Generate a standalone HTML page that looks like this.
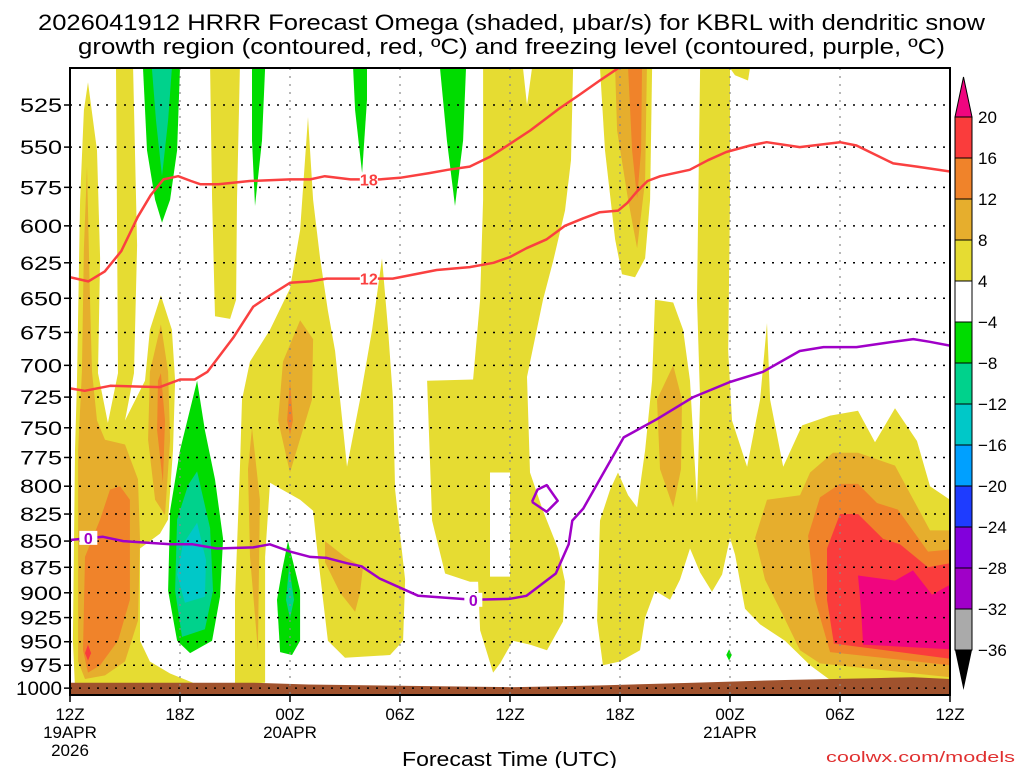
<!DOCTYPE html>
<html><head><meta charset="utf-8"><style>
body{margin:0;background:#fff;width:1024px;height:768px;overflow:hidden}
svg{display:block}
text{font-family:"Liberation Sans",sans-serif}
</style></head><body>
<svg id="chart" width="1024" height="768" viewBox="0 0 1024 768" xmlns="http://www.w3.org/2000/svg">
<defs><clipPath id="plotclip"><rect x="70" y="68" width="880" height="627"/></clipPath></defs>
<text x="38" y="30" font-size="22" textLength="947" lengthAdjust="spacingAndGlyphs">2026041912 HRRR Forecast Omega (shaded, μbar/s) for KBRL with dendritic snow</text>
<text x="78" y="54" font-size="22" textLength="867" lengthAdjust="spacingAndGlyphs">growth region (contoured, red, ºC) and freezing level (contoured, purple, ºC)</text>
<g id="shading" clip-path="url(#plotclip)"></g>
<g id="grid"></g>
<g id="lines" clip-path="url(#plotclip)"></g>
<rect x="70" y="68" width="880" height="627" fill="none" stroke="#000" stroke-width="2"/>
<g id="axes"></g>
<g id="cbar"></g>
<text x="402" y="766" font-size="20" textLength="215" lengthAdjust="spacingAndGlyphs">Forecast Time (UTC)</text>
<text x="826" y="762" font-size="15" textLength="189" lengthAdjust="spacingAndGlyphs" fill="#e03030">coolwx.com/models</text>
</svg>
<script>
const pressureLevels=[525,550,575,600,625,650,675,700,725,750,775,800,825,850,875,900,925,950,975,1000];
const hourTicks=[0,6,12,18,24,30,36,42,48];
const hourLabels=["12Z","18Z","00Z","06Z","12Z","18Z","00Z","06Z","12Z"];
const dateLabels={0:["19APR","2026"],12:["20APR"],36:["21APR"]};
const cbarLevels=[20,16,12,8,4,-4,-8,-12,-16,-20,-24,-28,-32,-36];
const cbarColors=["#f0057f","#fa3c3c","#f0832a","#e6ae2d","#e6dc32","#ffffff","#00dc00","#00d28c","#00c8c8","#00a0ff","#1e3cff","#8200dc","#a000c8","#aaaaaa","#000000"];
const groundHours=[0,10,13,24,29,34,39,44,46,48];
const groundP=[994,994,996,999,997,994,991,989,988,990];
const dgzMinus18=[[0,635],[1,638],[1.9,631],[2.8,617],[3.7,594],[4.4,580],[5.1,570],[5.9,568],[6.6,571],[7.1,573],[8.1,573],[9.8,571],[12,570],[13.1,570],[13.9,568],[15.3,570],[16.9,570],[18,569],[19.6,566],[20.6,564],[21.8,562],[22.9,556],[24,548],[25.1,540],[26.7,527],[27.8,519],[28.9,511],[30.2,502]];
const dgzMinus12=[[0,718],[0.8,720],[2.2,716],[4.9,717],[6,711],[6.8,711],[7.5,705],[8.9,679],[10,656],[10.9,648],[12,639],[13.1,638],[14,636],[17.6,636],[20,630],[21.8,628],[23.1,625],[24,621],[24.9,615],[26,609],[27,600],[28,595],[28.9,591],[29.9,590],[30.4,585],[30.9,578],[31.5,571],[32.2,568],[33.8,564],[34.8,558],[35.8,553],[37.1,549],[38,547],[39.8,550],[42,547],[42.9,549],[44.9,560],[46.2,562],[48,565]];
const freezing0=[[0,849],[1.8,846],[2.9,850],[5.5,853],[6.7,853],[8,857],[10,856],[10.9,853],[12,860],[13.1,865],[14,866],[15.1,871],[15.9,874],[16.9,886],[19,903],[22,907],[24,906],[24.9,903],[26.5,881],[27.2,853],[27.4,831],[28,820],[28.9,794],[30.2,758],[32,743],[34,725],[36,713],[37.8,705],[39.8,689],[41.1,686],[42.9,686],[44.4,683],[46,680],[46.9,682],[48,685]];
const freezingLoop=[[25.2,814],[25.5,803],[26,799],[26.6,813],[26,823],[25.2,814]];
const yellowLeft=[[0.98,512],[1.47,552],[1.64,622],[1.53,706],[2.07,746],[2.62,706],[2.51,504],[3.44,504],[3.66,613],[3.49,706],[3.0,744],[4.09,712],[4.36,673],[4.96,648],[5.56,673],[5.73,712],[5.62,769],[5.35,830],[4.91,843],[3.82,857],[3.82,949],[4.36,971],[5.46,984],[6.71,994],[6.55,1000],[0.27,1000],[0.16,949],[0.27,769],[0.38,712],[0.55,583],[0.76,528]];
const yellowD=[[7.64,504],[9.27,504],[9.11,583],[9.06,651],[8.73,665],[7.91,663],[7.75,583]];
const yellowMid=[[12.98,532],[13.26,583],[13.64,622],[14.07,659],[14.46,689],[14.73,727],[15.11,783],[15.82,727],[16.48,673],[17.02,622],[17.35,673],[17.62,727],[17.73,803],[18.28,887],[18.17,949],[17.46,964],[15.0,967],[14.07,949],[13.53,865],[13.26,822],[12.55,812],[10.91,797],[10.64,865],[10.64,994],[9.0,996],[9.0,907],[9.27,785],[9.38,727],[9.82,697],[10.91,673],[12.0,643],[12.55,603]];
const yellowJ=[[22.53,504],[24.71,504],[24.93,525],[25.2,504],[27.44,504],[27.33,558],[27.0,590],[26.35,624],[25.8,651],[24.93,709],[25.09,788],[25.8,822],[26.62,857],[27.0,889],[26.89,929],[26.02,959],[25.09,953],[24.16,949],[23.46,973],[23.08,983],[22.37,938],[22.26,889],[21.82,889],[20.46,881],[19.75,831],[19.48,712],[21.99,711],[22.37,651],[22.53,583]];
const whiteGap=[[22.91,788],[24,788],[24,884],[22.91,884]];
const yellowN=[[28.91,504],[31.75,504],[31.64,583],[31.37,622],[30.82,635],[30.11,633],[29.73,609],[29.18,552]];
const yellowQ=[[28.91,831],[29.46,803],[29.89,788],[30.44,808],[30.93,819],[31.37,769],[31.75,712],[31.91,651],[32.9,653],[33.44,673],[33.82,712],[34.2,815],[34.37,727],[34.2,651],[34.37,504],[36.0,504],[36.0,583],[35.9,689],[36.11,744],[36.93,783],[37.64,727],[38.02,668],[38.19,727],[38.9,783],[39.93,748],[41.46,740],[42.98,736],[43.91,762],[45.0,734],[46.2,761],[46.91,800],[48,812],[48,994],[41.46,991],[40.37,975],[39.0,949],[37.64,932],[36.82,916],[36.28,863],[36.0,847],[35.57,882],[35.02,899],[34.37,880],[33.82,857],[33.27,887],[32.73,907],[31.91,898],[31.37,925],[31.09,959],[30.0,971],[29.07,975],[28.75,928]];
const yellowTiny=[[36,504],[37.09,504],[36.98,511],[36.27,508]];
const orangeLeft=[[0.93,562],[1.09,651],[1.2,705],[1.47,744],[1.91,760],[3.0,764],[3.71,794],[3.82,849],[3.71,928],[3.0,971],[1.91,986],[0.82,990],[0.44,971],[0.44,769],[0.65,705],[0.76,615]];
const orangeCol=[[4.96,669],[5.35,705],[5.46,760],[5.18,826],[4.64,812],[4.26,760],[4.36,705]];
const orangeF=[[12.55,666],[13.26,680],[13.2,727],[12.0,788],[11.35,744],[11.62,697]];
const orangeK=[[9.93,750],[10.36,812],[10.25,959],[9.82,865],[9.71,785]];
const orangeL=[[13.91,850],[15.0,865],[15.98,875],[15.82,900],[15.55,919],[14.73,900],[13.91,870]];
const orangeN=[[29.73,504],[31.47,504],[31.37,571],[30.93,615],[30.44,583],[29.84,540]];
const orangeP=[[32.9,700],[33.38,727],[33.33,785],[32.9,819],[32.18,785],[32.02,727]];
const orangeBig=[[37.37,847],[38.02,812],[39.82,808],[40.37,788],[41.62,771],[42.98,771],[45,782],[46.91,840],[48,840],[48,988],[40.91,973],[39.82,959],[38.9,923],[37.91,887]];
const dkOrangeLeft=[[2.73,800],[3.27,812],[3.27,907],[2.62,949],[1.64,975],[0.98,983],[0.71,959],[0.82,865],[1.64,830],[2.18,803]];
const dkOrangeCol=[[4.96,706],[5.18,744],[5.07,797],[4.75,752],[4.8,712]];
const dkOrangeF=[[12,712],[12.16,744],[12,756],[11.84,744]];
const dkOrangeN=[[30.44,504],[31.2,504],[31.15,552],[30.93,582],[30.66,552]];
const dkOrangeBig=[[40.26,845],[40.91,810],[42.0,798],[42.98,798],[44.02,815],[45.16,821],[46.8,860],[48,858],[48,975],[41.46,961],[40.64,907]];
const redLeft=[[0.98,953],[1.15,962],[0.98,970],[0.82,962]];
const redBig=[[41.29,857],[42,825],[42.98,825],[44.35,848],[45.27,853],[46.8,875],[48,871],[48,968],[41.67,952],[41.29,907]];
const magentaBig=[[42.98,883],[45,888],[45.98,878],[47.02,902],[48,892],[48,958],[43.26,953],[43.15,917]];
const greenC=[[3.98,504],[6,504],[5.84,552],[5.46,583],[5.02,598],[4.64,583],[4.2,552]];
const tealC=[[4.47,504],[5.56,504],[5.35,534],[5.02,568],[4.69,534]];
const greenE=[[9.93,504],[10.64,504],[10.47,546],[10.09,587],[9.93,546]];
const greenH=[[15.44,504],[16.2,504],[16.2,522],[15.93,566],[15.55,528]];
const greenI=[[20.18,504],[21.6,504],[21.44,546],[21,587],[20.56,546]];
const greenLow=[[6.93,712],[7.36,752],[7.91,794],[8.35,848],[8.18,904],[7.75,949],[6.55,962],[5.84,949],[5.35,898],[5.46,822],[6,769]];
const tealLow=[[6.93,787],[7.64,838],[7.8,898],[7.36,937],[6.11,945],[5.73,898],[5.84,830],[6.44,799]];
const cyanLow=[[6.93,833],[7.42,868],[7.36,904],[6.27,910],[5.84,882],[6.16,853]];
const greenLow2=[[11.89,850],[12.55,898],[12.55,949],[12.11,964],[11.46,961],[11.29,907],[11.56,879]];
const tealLow2=[[11.95,874],[12.22,907],[12.0,926],[11.78,907]];
const greenDot=[[35.95,958],[36.1,964],[35.95,970],[35.8,964]];

const NS="http://www.w3.org/2000/svg";
const X=h=>70+h*880/48;
const Y=p=>105+905*Math.log(p/525);
function mk(tag,attrs,parent){const e=document.createElementNS(NS,tag);for(const k in attrs)e.setAttribute(k,attrs[k]);parent.appendChild(e);return e;}
const pts=a=>a.map(d=>X(d[0]).toFixed(1)+","+Y(d[1]).toFixed(1)).join(" ");
const sh=document.getElementById("shading");
function poly(a,c,name){const e=mk("polygon",{points:pts(a),fill:c},sh);

}
poly(yellowLeft,"#e6dc32","omega-4-left");poly(yellowD,"#e6dc32","omega-4-d");poly(yellowMid,"#e6dc32","omega-4-mid");
poly(yellowJ,"#e6dc32","omega-4-j");poly(whiteGap,"#ffffff","omega-gap");poly(yellowN,"#e6dc32","omega-4-n");
poly(yellowQ,"#e6dc32","omega-4-right");poly(yellowTiny,"#e6dc32","omega-4-tiny");
[orangeLeft,orangeCol,orangeF,orangeK,orangeL,orangeN,orangeP,orangeBig].forEach(a=>poly(a,"#e6ae2d","omega-8"));
[dkOrangeLeft,dkOrangeCol,dkOrangeF,dkOrangeN,dkOrangeBig].forEach(a=>poly(a,"#f0832a","omega-12"));
[redLeft,redBig].forEach(a=>poly(a,"#fa3c3c","omega-16"));
poly(magentaBig,"#f0057f","omega-20");
[greenC,greenE,greenH,greenI,greenLow,greenLow2,greenDot].forEach(a=>poly(a,"#00dc00","omega-neg4"));
[tealC,tealLow,tealLow2].forEach(a=>poly(a,"#00d28c","omega-neg8"));
poly(cyanLow,"#00c8c8","omega-neg12");
const gp=groundHours.map((h,i)=>[h,groundP[i]]).concat([[48,1010],[0,1010]]);
poly(gp,"#a0522d","ground-surface");

const grid=document.getElementById("grid");
pressureLevels.forEach(p=>{const l=mk("line",{x1:70,x2:950,y1:Y(p),y2:Y(p),stroke:"#000","stroke-width":1.5,"stroke-dasharray":"2,7"},grid);

});
hourTicks.slice(1,-1).forEach(h=>{const l=mk("line",{x1:X(h),x2:X(h),y1:68,y2:695,stroke:"#888","stroke-width":1.2,"stroke-dasharray":"2,6"},grid);

});

const ln=document.getElementById("lines");
function pl(a,c,w,name){const e=mk("polyline",{points:pts(a),fill:"none",stroke:c,"stroke-width":w,"stroke-linejoin":"round"},ln);

}
pl(dgzMinus18,"#fa4040",2.5,"dgz-minus18-line");pl(dgzMinus12,"#fa4040",2.5,"dgz-minus12-line");
pl(freezing0,"#a000c8",2.5,"freezing-level-line");pl(freezingLoop,"#a000c8",2.5,"freezing-level-loop");
function lab(h,p,t,c,name){const x=X(h),y=Y(p);mk("rect",{x:x-9,y:y-7,width:18,height:14,fill:"#fff"},ln);
const e=mk("text",{x:x,y:y+6,"font-size":16,"font-weight":"bold","text-anchor":"middle",fill:c},ln);e.textContent=t;

}
lab(16.3,570,"18","#fa4040","label-minus18");lab(16.3,636,"12","#fa4040","label-minus12");
lab(1,847,"0","#a000c8","label-freezing-left");lab(22,907,"0","#a000c8","label-freezing-mid");

const ax=document.getElementById("axes");
pressureLevels.forEach(p=>{const s=String(p);const w=s.length>3?46:42;
const t=mk("text",{x:62-w,y:Y(p)+7,"font-size":19,textLength:w,lengthAdjust:"spacingAndGlyphs"},ax);t.textContent=s;


mk("line",{x1:64,x2:70,y1:Y(p),y2:Y(p),stroke:"#000","stroke-width":1.5},ax);});
hourTicks.forEach((h,i)=>{const t=mk("text",{x:X(h),y:720,"font-size":17,"text-anchor":"middle"},ax);t.textContent=hourLabels[i];


mk("line",{x1:X(h),x2:X(h),y1:695,y2:702,stroke:"#000","stroke-width":1.5},ax);
if(dateLabels[h])dateLabels[h].forEach((s,j)=>{const d=mk("text",{x:X(h),y:738+j*18,"font-size":17,"text-anchor":"middle"},ax);d.textContent=s;

});});

const cb=document.getElementById("cbar");
const cy=i=>117+i*(650-117)/13;
const tri1=mk("polygon",{points:`955,117 972,117 963.5,77`,fill:cbarColors[0],stroke:"#000","stroke-width":1},cb);


for(let i=0;i<13;i++){const r=mk("rect",{x:955,y:cy(i),width:17,height:cy(i+1)-cy(i),fill:cbarColors[i+1],stroke:"#000","stroke-width":1},cb);

}
const tri2=mk("polygon",{points:`955,650 972,650 963.5,690`,fill:"#000"},cb);


cbarLevels.forEach((v,i)=>{const t=mk("text",{x:978,y:cy(i)+6,"font-size":17},cb);t.textContent=v<0?"\u2212"+(-v):v;

});
</script>
</body></html>
